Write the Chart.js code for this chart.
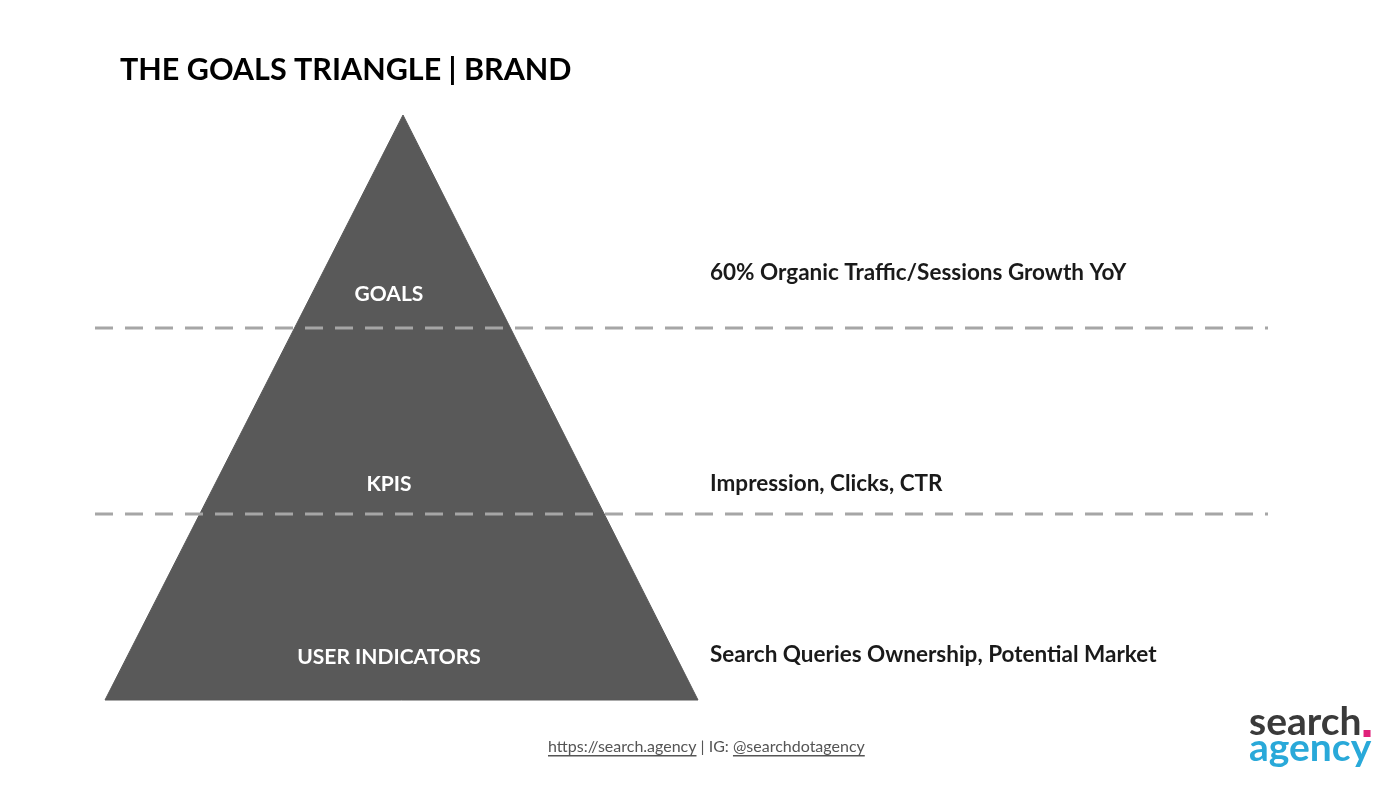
<!DOCTYPE html>
<html>
<head>
<meta charset="utf-8">
<script src="https://cdn.jsdelivr.net/npm/chart.js@4"></script>
<style>
  body { margin: 0; background: #fff; }
  #wrap { width: 1400px; height: 787px; }
</style>
</head>
<body>
<div id="wrap"><canvas id="chart" width="1400" height="787"></canvas></div>
<script>
// pyramid outline (x, y in page units)
const triangleX = [403, 698, 105, 403];
const triangleY = [115, 700, 700, 115];
// dashed separators
const separatorY = [328, 514];
const separatorFrom = 95;
const separatorTo = 1268;
// levels
const levels = ['GOALS', 'KPIS', 'USER INDICATORS'];
const levelY = [294, 484, 657];
const levelX = 389;
const descriptions = ['60% Organic Traffic/Sessions Growth YoY', 'Impression, Clicks, CTR', 'Search Queries Ownership, Potential Market'];
const descY = [273, 484, 655];
const descX = 710;

const FONT = 'Lato, "Open Sans", sans-serif';

const datasets = [{
  data: triangleX.map((x, i) => ({ x, y: triangleY[i] })),
  borderWidth: 1,
  borderColor: '#595959',
  backgroundColor: '#595959',
  fill: 'shape',
  pointRadius: 0,
  order: 2
}];
separatorY.forEach(y => datasets.push({
  data: [{ x: separatorFrom, y }, { x: separatorTo, y }],
  borderColor: '#a6a6a6',
  borderWidth: 3,
  borderDash: [18, 12],
  pointRadius: 0,
  fill: false,
  order: 1
}));

const textPlugin = {
  id: 'texts',
  afterDatasetsDraw(chart) {
    const { ctx, scales: { x, y } } = chart;
    ctx.save();
    ctx.textBaseline = 'middle';
    // title
    ctx.fillStyle = '#000';
    ctx.font = 'bold 30.5px ' + FONT;
    ctx.textAlign = 'left';
    ctx.fillText('THE GOALS TRIANGLE | BRAND', x.getPixelForValue(120), y.getPixelForValue(70));
    // level labels
    ctx.font = 'bold 21px ' + FONT;
    ctx.textAlign = 'center';
    ctx.fillStyle = '#fff';
    levels.forEach((t, i) => ctx.fillText(t, x.getPixelForValue(levelX), y.getPixelForValue(levelY[i])));
    // descriptions
    ctx.font = 'bold 22.5px ' + FONT;
    ctx.textAlign = 'left';
    ctx.fillStyle = '#1a1a1a';
    descriptions.forEach((t, i) => ctx.fillText(t, x.getPixelForValue(descX), y.getPixelForValue(descY[i])));
    // footer
    ctx.font = '16px ' + FONT;
    ctx.fillStyle = '#555';
    const fy = y.getPixelForValue(747);
    let fx = x.getPixelForValue(548);
    const parts = [['https://search.agency', true], [' | IG: ', false], ['@searchdotagency', true]];
    parts.forEach(([t, u]) => {
      const w = ctx.measureText(t).width;
      ctx.fillText(t, fx, fy);
      if (u) { ctx.fillRect(fx, fy + 8, w, 1.5); }
      fx += w;
    });
    // logo
    ctx.font = 'bold 39px ' + FONT;
    ctx.fillStyle = '#3a3a3a';
    ctx.fillText('search', x.getPixelForValue(1249), y.getPixelForValue(722));
    const sw = ctx.measureText('search').width;
    ctx.fillStyle = '#e0217a';
    ctx.fillRect(x.getPixelForValue(1249) + sw + 2, y.getPixelForValue(730), 7, 7);
    ctx.fillStyle = '#29a9d9';
    ctx.fillText('agency', x.getPixelForValue(1249), y.getPixelForValue(748));
    ctx.restore();
  }
};

new Chart(document.getElementById('chart'), {
  type: 'scatter',
  data: { datasets },
  options: {
    responsive: false,
    animation: false,
    showLine: true,
    layout: { padding: 0 },
    plugins: { legend: { display: false }, tooltip: { enabled: false } },
    scales: {
      x: { type: 'linear', min: 0, max: 1400, display: false },
      y: { type: 'linear', min: 0, max: 787, reverse: true, display: false }
    }
  },
  plugins: [textPlugin]
});
</script>
</body>
</html>
